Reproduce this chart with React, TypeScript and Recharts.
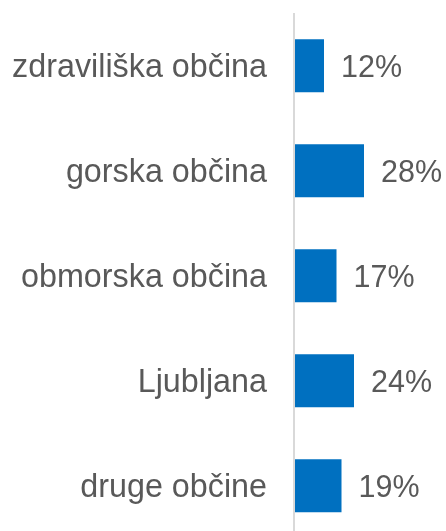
import { Bar, BarChart, LabelList, XAxis, YAxis } from "recharts";

const categories = [
  "zdraviliška občina",
  "gorska občina",
  "obmorska občina",
  "Ljubljana",
  "druge občine",
];
const shares = [12, 28, 17, 24, 19];

const data = categories.map((name, i) => ({ name, value: shares[i] }));

const FONT = "Liberation Sans";
const TEXT = "#595959";

export default function App() {
  return (
    <div
      style={{
        fontFamily: FONT,
        position: "fixed",
        left: 0,
        top: 0,
        width: 446,
        height: 531,
        overflow: "hidden",
      }}
    >
      <style>{".recharts-surface { overflow: visible; }"}</style>
      <BarChart
        width={430}
        height={538}
        data={data}
        layout="vertical"
        margin={{ top: 13, right: 0, bottom: 0, left: 8 }}
        barCategoryGap="25%"
      >
        <XAxis type="number" domain={[0, 54.4]} hide />
        <YAxis
          type="category"
          dataKey="name"
          width={286}
          tickLine={false}
          tickSize={0}
          tickMargin={27}
          axisLine={{ stroke: "#d9d9d9", strokeWidth: 2 }}
          tick={{ fill: TEXT, fontSize: 32.3, fontFamily: FONT }}
          interval={0}
        />
        <Bar dataKey="value" fill="#0070c0" isAnimationActive={false}>
          <LabelList
            dataKey="value"
            position="right"
            offset={17}
            formatter={(v: number) => `${v}%`}
            fill={TEXT}
            fontSize={30.5}
            fontFamily={FONT}
          />
        </Bar>
      </BarChart>
    </div>
  );
}
